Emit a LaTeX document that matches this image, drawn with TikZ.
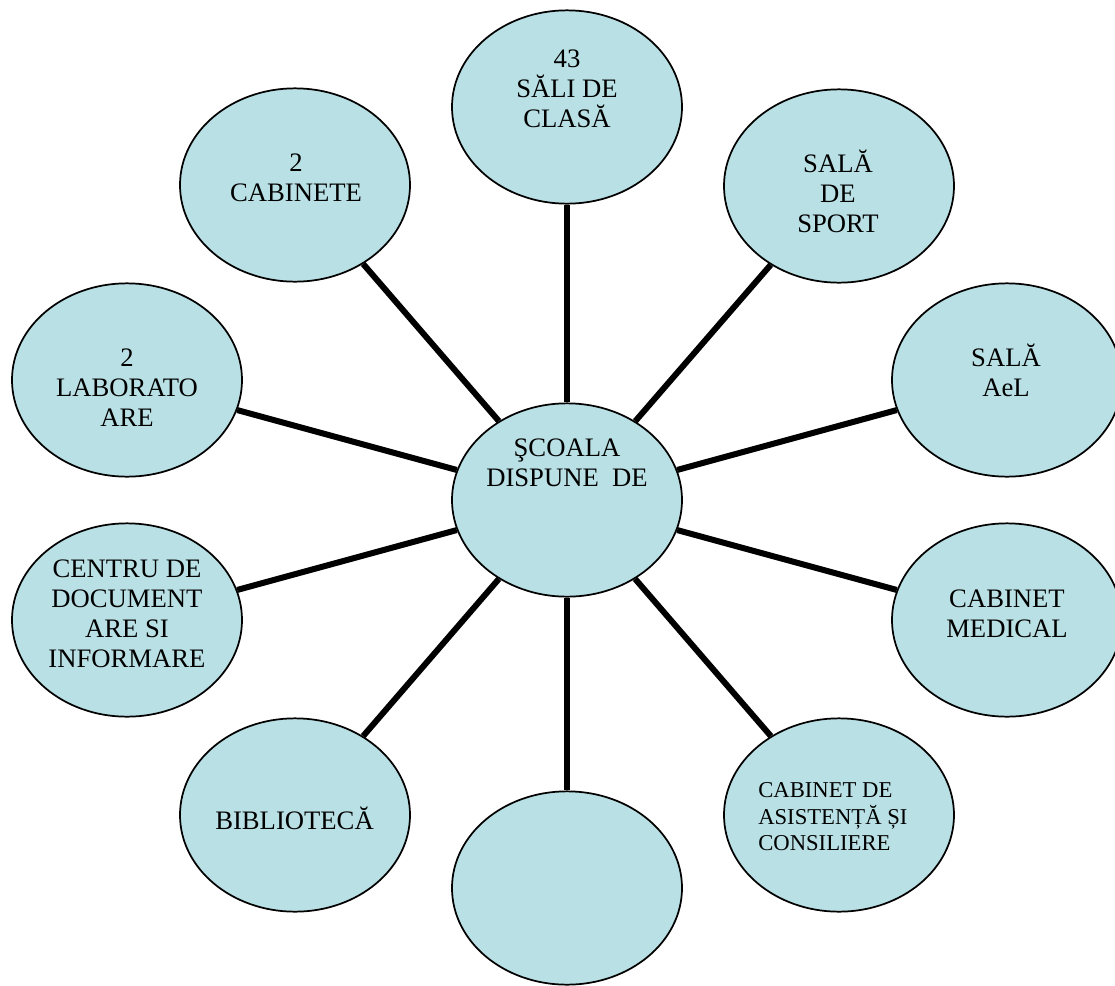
\documentclass[tikz,border=0pt]{standalone}
\usepackage{fontspec}
\setmainfont{Liberation Serif}
\usetikzlibrary{shapes.geometric}
\definecolor{bubblefill}{RGB}{185,224,228}

\begin{document}
\begin{tikzpicture}[x=0.75pt, y=-0.75pt,
        bubble/.style={draw, ellipse, fill=bubblefill, line width=1.3pt,
            minimum width=172.5pt, minimum height=145pt, inner sep=0pt},
        txt/.style={align=center, inner sep=0pt, font=\fontsize{20}{22.5}\selectfont},
        smalltxt/.style={align=left, inner sep=0pt, font=\fontsize{17}{19.9}\selectfont},
        spoke/.style={line width=4.5pt}]
        \useasboundingbox (0, 0) rectangle (1115, 986);
        \node[bubble] (scoala) at (567, 500) {};
        \node[bubble] (sali) at (567, 107) {};
        \node[bubble] (sport) at (839, 186) {};
        \node[bubble] (ael) at (1007, 380) {};
        \node[bubble] (medical) at (1007, 620) {};
        \node[bubble] (asist) at (839, 815) {};
        \node[bubble] (gol) at (567, 888) {};
        \node[bubble] (biblio) at (295, 815) {};
        \node[bubble] (centru) at (127, 620) {};
        \node[bubble] (labor) at (127, 380) {};
        \node[bubble] (cabinete) at (295, 185) {};
        \draw[spoke] (scoala) -- (sali);
        \draw[spoke] (scoala) -- (sport);
        \draw[spoke] (scoala) -- (ael);
        \draw[spoke] (scoala) -- (medical);
        \draw[spoke] (scoala) -- (asist);
        \draw[spoke] (scoala) -- (gol);
        \draw[spoke] (scoala) -- (biblio);
        \draw[spoke] (scoala) -- (centru);
        \draw[spoke] (scoala) -- (labor);
        \draw[spoke] (scoala) -- (cabinete);
        \node[txt] (scoala-t) at (567, 463) {ŞCOALA\\DISPUNE\ \ DE};
        \node[txt] (sali-t) at (567, 89) {43\\SĂLI DE\\CLASĂ};
        \node[txt] (sport-t) at (838, 191) {SALĂ\\DE\\SPORT};
        \node[txt] (ael-t) at (1006, 370) {SALĂ\\AeL};
        \node[txt] (medical-t) at (1007, 614) {CABINET\\MEDICAL};
        \node[smalltxt, anchor=west] (asist-t) at (758, 817) {CABINET DE\\ASISTENȚĂ ȘI\\CONSILIERE};
        \node[txt, anchor=west] (biblio-t) at (215, 818) {BIBLIOTECĂ};
        \node[txt] (centru-t) at (127, 614) {CENTRU DE\\DOCUMENT\\ARE SI\\INFORMARE};
        \node[txt] (labor-t) at (127, 388) {2\\LABORATO\\ARE};
        \node[txt] (cabinete-t) at (296, 178) {2\\CABINETE};
    \end{tikzpicture}
\end{document}
